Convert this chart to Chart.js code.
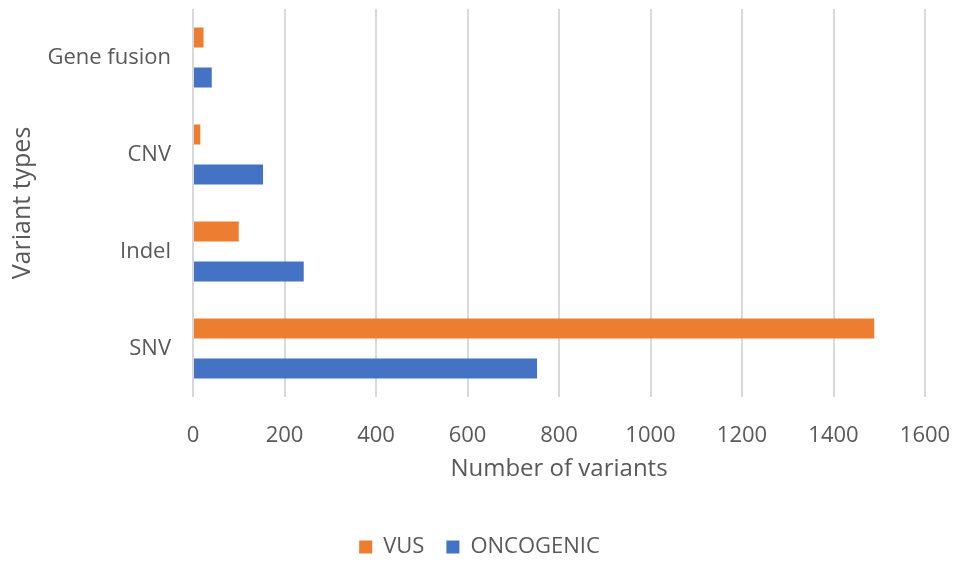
<!DOCTYPE html>
<html>
<head>
<meta charset="utf-8">
<script src="https://cdn.jsdelivr.net/npm/chart.js@4/dist/chart.umd.min.js"></script>
<style>
    html, body { margin: 0; padding: 0; background: #fff; }
    #wrap { width: 955px; height: 562px; }
</style>
</head>
<body>
<div id="wrap"><canvas id="variantChart" width="955" height="562"></canvas></div>
<script>
// variant counts per type
const variantTypes = ["Gene fusion", "CNV", "Indel", "SNV"];
const vusCounts = [23, 16, 100, 1489];
const oncogenicCounts = [41, 153, 242, 752];
const xTicks = [0, 200, 400, 600, 800, 1000, 1200, 1400, 1600];

const grey = "#595959";
const font = "'Open Sans', sans-serif";

// nudge the legend row a little to the right, under the plot area
const legendShift = {
    id: "legendShift",
    afterLayout(chart) {
        chart.legend.left += 17;
        chart.legend.right += 17;
    },
};

const ctx = document.getElementById("variantChart").getContext("2d");
new Chart(ctx, {
    type: "bar",
    data: {
        labels: variantTypes,
        datasets: [
            { label: "VUS", data: vusCounts, backgroundColor: "#ED7D31" },
            { label: "ONCOGENIC", data: oncogenicCounts, backgroundColor: "#4472C4" },
        ],
    },
    plugins: [legendShift],
    options: {
        indexAxis: "y",
        responsive: false,
        animation: false,
        categoryPercentage: 0.825,
        barPercentage: 0.5,
        // negative bottom pushes the legend row closer to the edge
        layout: { padding: { top: 9, right: 30, bottom: -6, left: 0 } },
        plugins: {
            tooltip: { enabled: false },
            legend: {
                position: "bottom",
                labels: {
                    color: grey,
                    font: { family: font, size: 22 },
                    boxWidth: 13,
                    boxHeight: 13,
                    padding: 22,
                },
            },
        },
        scales: {
            x: {
                min: 0,
                max: 1600,
                afterBuildTicks: (scale) => {
                    scale.ticks = xTicks.map((v) => ({ value: v }));
                },
                grid: { color: "#d9d9d9", lineWidth: 2, drawTicks: false },
                border: { display: false },
                ticks: {
                    color: grey,
                    font: { family: font, size: 22 },
                    padding: 26,
                    callback: (v) => String(v),
                },
                title: {
                    display: true,
                    text: "Number of variants",
                    color: grey,
                    font: { family: font, size: 24 },
                    padding: { top: 0, bottom: 30 },
                },
                afterFit: (scale) => {
                    scale.height = 117;
                    scale.paddingLeft = 0;
                    scale.paddingRight = 0;
                },
            },
            y: {
                grid: { display: false, drawTicks: false },
                border: { display: false },
                ticks: { color: grey, font: { family: font, size: 22 }, padding: 22 },
                title: {
                    display: true,
                    text: "Variant types",
                    color: grey,
                    font: { family: font, size: 25 },
                    padding: { top: 8, bottom: 0 },
                },
                afterFit: (scale) => {
                    scale.width = 193;
                    scale.paddingTop = 0;
                    scale.paddingBottom = 0;
                },
            },
        },
    },
});
</script>
</body>
</html>
